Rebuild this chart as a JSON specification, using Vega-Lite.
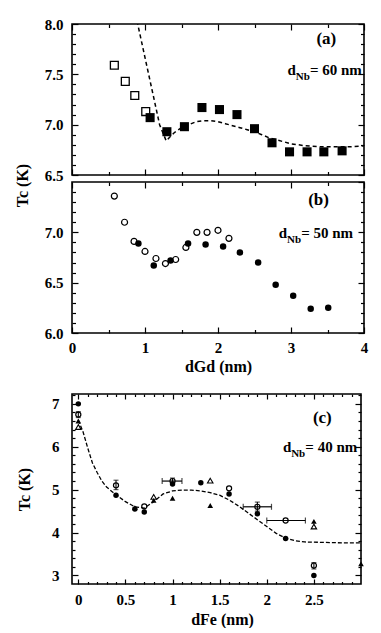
{
  "$schema": "https://vega.github.io/schema/vega-lite/v6.json",
  "padding": {"left": 13, "top": 16, "right": 0, "bottom": 0},
  "config": {
    "font": "Liberation Serif",
    "view": {"stroke": "black", "strokeWidth": 1.6},
    "axis": {"labelFont": "Liberation Serif", "labelFontSize": 15, "labelFontWeight": "bold", "labelColor": "black",
             "titleFont": "Liberation Serif", "titleFontSize": 16, "titleFontWeight": "bold", "titleColor": "black",
             "domain": false, "tickColor": "black", "tickWidth": 1.2, "grid": false, "labelFlush": false, "labelOverlap": false},
    "text": {"font": "Liberation Serif", "fontWeight": "bold", "color": "black", "align": "right", "baseline": "alphabetic"}
  },
  "datasets": {
    "a_open": [{"d":0.58,"Tc":7.59},{"d":0.73,"Tc":7.43},{"d":0.86,"Tc":7.29},{"d":1.01,"Tc":7.13}],
    "a_filled": [{"d":1.07,"Tc":7.07},{"d":1.30,"Tc":6.93},{"d":1.54,"Tc":6.98},{"d":1.78,"Tc":7.17},{"d":2.02,"Tc":7.15},{"d":2.26,"Tc":7.10},{"d":2.50,"Tc":6.96},{"d":2.74,"Tc":6.82},{"d":2.98,"Tc":6.73},{"d":3.22,"Tc":6.73},{"d":3.45,"Tc":6.73},{"d":3.70,"Tc":6.74}],
    "a_curve": [{"d":0.87,"Tc":8.1},{"d":1.05,"Tc":7.5},{"d":1.2,"Tc":7.0},{"d":1.29,"Tc":6.84},{"d":1.4,"Tc":6.92},{"d":1.5,"Tc":6.97},{"d":1.6,"Tc":7.0},{"d":1.7,"Tc":7.03},{"d":1.8,"Tc":7.04},{"d":1.9,"Tc":7.04},{"d":2.0,"Tc":7.03},{"d":2.1,"Tc":7.01},{"d":2.2,"Tc":6.99},{"d":2.3,"Tc":6.97},{"d":2.4,"Tc":6.95},{"d":2.5,"Tc":6.93},{"d":2.6,"Tc":6.9},{"d":2.7,"Tc":6.87},{"d":2.8,"Tc":6.85},{"d":2.9,"Tc":6.83},{"d":3.0,"Tc":6.81},{"d":3.1,"Tc":6.8},{"d":3.2,"Tc":6.79},{"d":3.4,"Tc":6.78},{"d":3.6,"Tc":6.78},{"d":3.8,"Tc":6.78},{"d":4.0,"Tc":6.79}],
    "b_open": [{"d":0.58,"Tc":7.36},{"d":0.72,"Tc":7.1},{"d":0.85,"Tc":6.91},{"d":1.0,"Tc":6.81},{"d":1.15,"Tc":6.74},{"d":1.28,"Tc":6.69},{"d":1.42,"Tc":6.73},{"d":1.56,"Tc":6.85},{"d":1.71,"Tc":7.0},{"d":1.85,"Tc":7.0},{"d":2.0,"Tc":7.02},{"d":2.15,"Tc":6.94}],
    "b_filled": [{"d":0.91,"Tc":6.89},{"d":1.12,"Tc":6.67},{"d":1.35,"Tc":6.72},{"d":1.59,"Tc":6.89},{"d":1.83,"Tc":6.88},{"d":2.07,"Tc":6.86},{"d":2.3,"Tc":6.8},{"d":2.55,"Tc":6.7},{"d":2.79,"Tc":6.48},{"d":3.03,"Tc":6.37},{"d":3.27,"Tc":6.24},{"d":3.51,"Tc":6.25}],
    "c_fcirc": [{"d":0,"Tc":7.0},{"d":0.4,"Tc":4.87},{"d":0.6,"Tc":4.55},{"d":0.7,"Tc":4.48},{"d":1.0,"Tc":5.13},{"d":1.3,"Tc":5.16},{"d":1.6,"Tc":4.9},{"d":1.9,"Tc":4.44},{"d":2.2,"Tc":3.86},{"d":2.5,"Tc":3.0}],
    "c_ocirc": [{"d":0,"Tc":6.75},{"d":0.4,"Tc":5.1},{"d":0.7,"Tc":4.61},{"d":1.0,"Tc":5.2},{"d":1.6,"Tc":5.03},{"d":1.9,"Tc":4.6},{"d":2.2,"Tc":4.28},{"d":2.5,"Tc":3.23}],
    "c_ftri": [{"d":0,"Tc":6.6},{"d":0.6,"Tc":4.58},{"d":0.8,"Tc":4.75},{"d":1.0,"Tc":4.8},{"d":1.4,"Tc":4.63},{"d":2.5,"Tc":4.26},{"d":3.0,"Tc":3.27}],
    "c_otri": [{"d":0,"Tc":6.46},{"d":0.8,"Tc":4.83},{"d":1.4,"Tc":5.21},{"d":2.5,"Tc":4.14}],
    "c_xerr": [{"Tc":5.2,"lo":0.89,"hi":1.1},{"Tc":4.6,"lo":1.75,"hi":2.05},{"Tc":4.28,"lo":2.0,"hi":2.41}],
    "c_yerr": [{"d":0,"lo":6.68,"hi":6.82},{"d":0.4,"lo":5.0,"hi":5.22},{"d":1.0,"lo":5.14,"hi":5.27},{"d":1.9,"lo":4.5,"hi":4.71},{"d":2.5,"lo":3.15,"hi":3.3}],
    "c_curve": [{"d":0,"Tc":6.62},{"d":0.05,"Tc":6.35},{"d":0.1,"Tc":5.97},{"d":0.15,"Tc":5.62},{"d":0.2,"Tc":5.4},{"d":0.25,"Tc":5.2},{"d":0.3,"Tc":5.06},{"d":0.4,"Tc":4.88},{"d":0.5,"Tc":4.72},{"d":0.6,"Tc":4.6},{"d":0.7,"Tc":4.57},{"d":0.8,"Tc":4.72},{"d":0.9,"Tc":4.9},{"d":1.0,"Tc":4.97},{"d":1.1,"Tc":4.99},{"d":1.2,"Tc":4.99},{"d":1.3,"Tc":4.97},{"d":1.4,"Tc":4.93},{"d":1.5,"Tc":4.87},{"d":1.6,"Tc":4.76},{"d":1.7,"Tc":4.62},{"d":1.8,"Tc":4.46},{"d":1.9,"Tc":4.3},{"d":2.0,"Tc":4.14},{"d":2.1,"Tc":3.98},{"d":2.2,"Tc":3.87},{"d":2.3,"Tc":3.81},{"d":2.4,"Tc":3.78},{"d":2.6,"Tc":3.77},{"d":2.8,"Tc":3.76},{"d":3.0,"Tc":3.76}],
    "a_notes": [{"label": "(a)", "sub": "Nb", "main": "= 60 nm"}],
    "b_notes": [{"label": "(b)", "sub": "Nb", "main": "= 50 nm"}],
    "c_notes": [{"label": "(c)", "sub": "Nb", "main": "= 40 nm"}]
  },
  "concat": [
    {
      "vconcat": [
        {
          "width": 292, "height": 151,
          "layer": [
            {"data": {"name": "a_curve"},
             "mark": {"type": "line", "stroke": "black", "strokeWidth": 1.5, "strokeDash": [4, 3], "clip": true},
             "encoding": {
               "x": {"field": "d", "type": "quantitative", "scale": {"domain": [0, 4], "nice": false, "zero": false},
                     "axis": {"orient": "bottom", "values": [0, 1, 2, 3, 4], "labels": false, "tickSize": -6, "title": null}},
               "y": {"field": "Tc", "type": "quantitative", "scale": {"domain": [6.5, 8], "nice": false, "zero": false},
                     "axis": {"orient": "left", "values": [6.5, 7, 7.5, 8], "format": ".1f", "tickSize": -6, "labelPadding": 15, "title": "Tc (K)", "titlePadding": 14, "titleY": 161}}}},
            {"data": {"name": "a_open"},
             "mark": {"type": "square", "filled": false, "stroke": "black", "strokeWidth": 1.3, "size": 62, "opacity": 1},
             "encoding": {
               "x": {"field": "d", "type": "quantitative", "axis": {"orient": "top", "values": [0, 1, 2, 3, 4], "labels": false, "tickSize": -6, "title": null}},
               "y": {"field": "Tc", "type": "quantitative", "axis": {"orient": "right", "values": [6.5, 7, 7.5, 8], "labels": false, "tickSize": -6, "title": null}}}},
            {"data": {"name": "a_filled"},
             "mark": {"type": "square", "filled": true, "color": "black", "size": 82, "opacity": 1},
             "encoding": {
               "x": {"field": "d", "type": "quantitative", "axis": {"orient": "bottom", "values": [0.5, 1.5, 2.5, 3.5], "labels": false, "tickSize": -3.5, "title": null}},
               "y": {"field": "Tc", "type": "quantitative", "axis": {"orient": "left", "values": [6.6, 6.7, 6.8, 6.9, 7.1, 7.2, 7.3, 7.4, 7.6, 7.7, 7.8, 7.9], "labels": false, "tickSize": -3.5, "title": null}}}},
            {"data": {"name": "a_notes"},
             "mark": {"type": "text", "text": "d", "dx": -66, "fontSize": 15},
             "encoding": {
               "x": {"datum": 3.97, "type": "quantitative", "axis": {"orient": "top", "values": [0.5, 1.5, 2.5, 3.5], "labels": false, "tickSize": -3.5, "title": null}},
               "y": {"datum": 7.49, "type": "quantitative", "axis": {"orient": "right", "values": [6.6, 6.7, 6.8, 6.9, 7.1, 7.2, 7.3, 7.4, 7.6, 7.7, 7.8, 7.9], "labels": false, "tickSize": -3.5, "title": null}}}},
            {"data": {"name": "a_notes"},
             "mark": {"type": "text", "dx": -52, "dy": 5, "fontSize": 11},
             "encoding": {"text": {"field": "sub"}, "x": {"datum": 3.97, "type": "quantitative", "axis": null}, "y": {"datum": 7.49, "type": "quantitative", "axis": null}}},
            {"data": {"name": "a_notes"},
             "mark": {"type": "text", "fontSize": 15},
             "encoding": {"text": {"field": "main"}, "x": {"datum": 3.97, "type": "quantitative", "axis": null}, "y": {"datum": 7.49, "type": "quantitative", "axis": null}}},
            {"data": {"name": "a_notes"},
             "mark": {"type": "text", "fontSize": 17},
             "encoding": {"text": {"field": "label"}, "x": {"datum": 3.62, "type": "quantitative", "axis": null}, "y": {"datum": 7.8, "type": "quantitative", "axis": null}}}
          ],
          "resolve": {"axis": {"x": "independent", "y": "independent"}}
        },
        {
          "width": 292, "height": 151,
          "layer": [
            {"data": {"name": "b_filled"},
             "mark": {"type": "circle", "color": "black", "size": 42, "opacity": 1},
             "encoding": {
               "x": {"field": "d", "type": "quantitative", "scale": {"domain": [0, 4], "nice": false, "zero": false},
                     "axis": {"orient": "bottom", "values": [0, 1, 2, 3, 4], "format": "d", "tickSize": -6, "labelPadding": 13, "title": "dGd (nm)", "titlePadding": 3}},
               "y": {"field": "Tc", "type": "quantitative", "scale": {"domain": [6, 7.5], "nice": false, "zero": false},
                     "axis": {"orient": "left", "values": [6, 6.5, 7], "format": ".1f", "tickSize": -6, "labelPadding": 15, "title": null}}}},
            {"data": {"name": "b_open"},
             "mark": {"type": "point", "shape": "circle", "filled": false, "stroke": "black", "strokeWidth": 1.2, "size": 36, "opacity": 1},
             "encoding": {
               "x": {"field": "d", "type": "quantitative", "axis": {"orient": "top", "values": [0, 1, 2, 3, 4], "labels": false, "tickSize": -6, "title": null}},
               "y": {"field": "Tc", "type": "quantitative", "axis": {"orient": "right", "values": [6, 6.5, 7, 7.5], "labels": false, "tickSize": -6, "title": null}}}},
            {"data": {"name": "b_notes"},
             "mark": {"type": "text", "text": "d", "dx": -66, "fontSize": 15},
             "encoding": {
               "x": {"datum": 3.85, "type": "quantitative", "axis": {"orient": "bottom", "values": [0.5, 1.5, 2.5, 3.5], "labels": false, "tickSize": -3.5, "title": null}},
               "y": {"datum": 6.94, "type": "quantitative", "axis": {"orient": "left", "values": [6.1, 6.2, 6.3, 6.4, 6.6, 6.7, 6.8, 6.9, 7.1, 7.2, 7.3, 7.4], "labels": false, "tickSize": -3.5, "title": null}}}},
            {"data": {"name": "b_notes"},
             "mark": {"type": "text", "dx": -52, "dy": 5, "fontSize": 11},
             "encoding": {
               "text": {"field": "sub"},
               "x": {"datum": 3.85, "type": "quantitative", "axis": {"orient": "top", "values": [0.5, 1.5, 2.5, 3.5], "labels": false, "tickSize": -3.5, "title": null}},
               "y": {"datum": 6.94, "type": "quantitative", "axis": {"orient": "right", "values": [6.1, 6.2, 6.3, 6.4, 6.6, 6.7, 6.8, 6.9, 7.1, 7.2, 7.3, 7.4], "labels": false, "tickSize": -3.5, "title": null}}}},
            {"data": {"name": "b_notes"},
             "mark": {"type": "text", "fontSize": 15},
             "encoding": {"text": {"field": "main"}, "x": {"datum": 3.85, "type": "quantitative", "axis": null}, "y": {"datum": 6.94, "type": "quantitative", "axis": null}}},
            {"data": {"name": "b_notes"},
             "mark": {"type": "text", "fontSize": 17},
             "encoding": {"text": {"field": "label"}, "x": {"datum": 3.52, "type": "quantitative", "axis": null}, "y": {"datum": 7.27, "type": "quantitative", "axis": null}}}
          ],
          "resolve": {"axis": {"x": "independent", "y": "independent"}}
        }
      ],
      "spacing": 7,
      "bounds": "flush"
    },
    {
      "width": 289, "height": 190,
      "layer": [
        {"data": {"name": "c_curve"},
         "mark": {"type": "line", "stroke": "black", "strokeWidth": 1.3, "strokeDash": [4, 2], "clip": true},
         "encoding": {
           "x": {"field": "d", "type": "quantitative", "scale": {"domain": [-0.067, 3.0], "nice": false, "zero": false},
                 "axis": {"orient": "bottom", "values": [0, 0.5, 1, 1.5, 2, 2.5], "format": "~g", "tickSize": -5, "labelPadding": 13, "title": "dFe (nm)", "titlePadding": 4, "titleX": 150}},
           "y": {"field": "Tc", "type": "quantitative", "scale": {"domain": [2.8, 7.23], "nice": false, "zero": false},
                 "axis": {"orient": "left", "values": [3, 4, 5, 6, 7], "format": "d", "tickSize": -6, "labelPadding": 19, "title": "Tc (K)", "titlePadding": 19}}}},
        {"data": {"name": "c_fcirc"},
         "mark": {"type": "circle", "color": "black", "size": 30, "opacity": 1},
         "encoding": {
           "x": {"field": "d", "type": "quantitative", "axis": {"orient": "top", "values": [0, 0.5, 1, 1.5, 2, 2.5], "labels": false, "tickSize": -5, "title": null}},
           "y": {"field": "Tc", "type": "quantitative", "axis": {"orient": "right", "values": [3, 4, 5, 6, 7], "labels": false, "tickSize": -6, "title": null}}}},
        {"data": {"name": "c_ocirc"},
         "mark": {"type": "point", "shape": "circle", "filled": false, "stroke": "black", "strokeWidth": 1.2, "size": 26, "opacity": 1},
         "encoding": {
           "x": {"field": "d", "type": "quantitative", "axis": {"orient": "bottom", "values": [0.1, 0.2, 0.3, 0.4, 0.6, 0.7, 0.8, 0.9, 1.1, 1.2, 1.3, 1.4, 1.6, 1.7, 1.8, 1.9, 2.1, 2.2, 2.3, 2.4, 2.6, 2.7, 2.8, 2.9], "labels": false, "tickSize": -2.5, "title": null}},
           "y": {"field": "Tc", "type": "quantitative", "axis": {"orient": "left", "values": [3.2, 3.4, 3.6, 3.8, 4.2, 4.4, 4.6, 4.8, 5.2, 5.4, 5.6, 5.8, 6.2, 6.4, 6.6, 6.8, 7.2], "labels": false, "tickSize": -3, "title": null}}}},
        {"data": {"name": "c_ftri"},
         "mark": {"type": "point", "shape": "triangle-up", "filled": true, "color": "black", "size": 32, "opacity": 1},
         "encoding": {
           "x": {"field": "d", "type": "quantitative", "axis": {"orient": "top", "values": [0.1, 0.2, 0.3, 0.4, 0.6, 0.7, 0.8, 0.9, 1.1, 1.2, 1.3, 1.4, 1.6, 1.7, 1.8, 1.9, 2.1, 2.2, 2.3, 2.4, 2.6, 2.7, 2.8, 2.9], "labels": false, "tickSize": -2.5, "title": null}},
           "y": {"field": "Tc", "type": "quantitative", "axis": {"orient": "right", "values": [3.2, 3.4, 3.6, 3.8, 4.2, 4.4, 4.6, 4.8, 5.2, 5.4, 5.6, 5.8, 6.2, 6.4, 6.6, 6.8, 7.2], "labels": false, "tickSize": -3, "title": null}}}},
        {"data": {"name": "c_otri"},
         "mark": {"type": "point", "shape": "triangle-up", "filled": false, "stroke": "black", "strokeWidth": 1.1, "size": 30, "opacity": 1},
         "encoding": {
           "x": {"field": "d", "type": "quantitative", "axis": null},
           "y": {"field": "Tc", "type": "quantitative", "axis": null}}},
        {"data": {"name": "c_xerr"},
         "mark": {"type": "errorbar", "ticks": {"size": 6, "thickness": 1.2, "color": "black"}, "rule": {"strokeWidth": 1.2, "color": "black"}},
         "encoding": {
           "x": {"field": "lo", "type": "quantitative", "axis": null},
           "x2": {"field": "hi"},
           "y": {"field": "Tc", "type": "quantitative", "axis": null}}},
        {"data": {"name": "c_yerr"},
         "mark": {"type": "errorbar", "ticks": {"size": 5, "thickness": 1.1, "color": "black"}, "rule": {"strokeWidth": 1.1, "color": "black"}},
         "encoding": {
           "y": {"field": "lo", "type": "quantitative", "axis": null},
           "y2": {"field": "hi"},
           "x": {"field": "d", "type": "quantitative", "axis": null}}},
        {"data": {"name": "c_notes"},
         "mark": {"type": "text", "text": "d", "dx": -66, "fontSize": 15},
         "encoding": {"x": {"datum": 2.96, "type": "quantitative", "axis": null}, "y": {"datum": 5.88, "type": "quantitative", "axis": null}}},
        {"data": {"name": "c_notes"},
         "mark": {"type": "text", "dx": -52, "dy": 5, "fontSize": 11},
         "encoding": {"text": {"field": "sub"}, "x": {"datum": 2.96, "type": "quantitative", "axis": null}, "y": {"datum": 5.88, "type": "quantitative", "axis": null}}},
        {"data": {"name": "c_notes"},
         "mark": {"type": "text", "fontSize": 15},
         "encoding": {"text": {"field": "main"}, "x": {"datum": 2.96, "type": "quantitative", "axis": null}, "y": {"datum": 5.88, "type": "quantitative", "axis": null}}},
        {"data": {"name": "c_notes"},
         "mark": {"type": "text", "fontSize": 17},
         "encoding": {"text": {"field": "label"}, "x": {"datum": 2.69, "type": "quantitative", "axis": null}, "y": {"datum": 6.56, "type": "quantitative", "axis": null}}}
      ],
      "resolve": {"axis": {"x": "independent", "y": "independent"}}
    }
  ],
  "columns": 1,
  "align": "none",
  "spacing": 17
}
